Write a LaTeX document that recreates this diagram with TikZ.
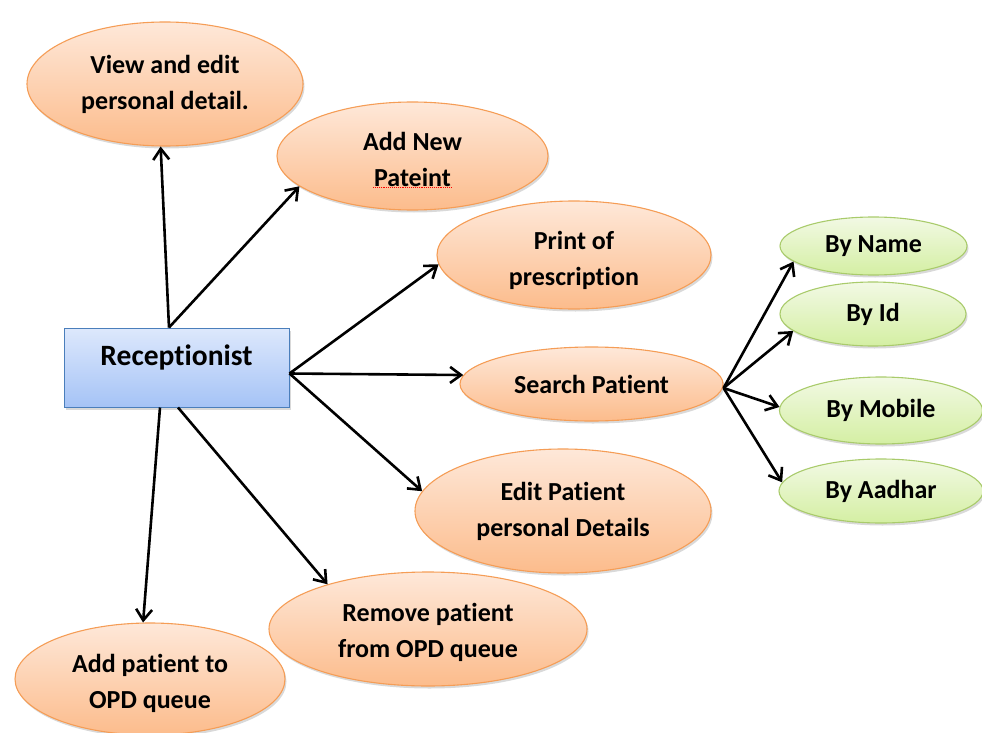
\documentclass[tikz,border=0pt]{standalone}
\usepackage{fontspec}
\setmainfont[Ligatures=NoCommon]{Carlito}
\usetikzlibrary{shapes.geometric,arrows.meta,shadows}
\definecolor{orTop}{HTML}{FEE8D9}
\definecolor{orBot}{HTML}{FCBC8C}
\definecolor{orLine}{HTML}{F59D56}
\definecolor{grTop}{HTML}{F2F9E4}
\definecolor{grBot}{HTML}{D4EFA3}
\definecolor{grLine}{HTML}{A9CB6B}
\definecolor{blTop}{HTML}{DDE8FC}
\definecolor{blBot}{HTML}{A5C3F6}
\definecolor{blLine}{HTML}{4A7EBB}
\newcommand{\mylift}[1]{\rule{0pt}{#1}}
\tikzset{
  txt/.style={font=\bfseries\fontsize{26}{36}\selectfont, align=center},
  usecase/.style={ellipse, draw=orLine, line width=1.1pt, top color=orTop, bottom color=orBot,
     inner sep=0pt, txt, drop shadow={shadow xshift=1.5pt, shadow yshift=-2.5pt, opacity=0.15, fill=black}},
  subcase/.style={ellipse, draw=grLine, line width=1.1pt, top color=grTop, bottom color=grBot,
     inner sep=0pt, txt, drop shadow={shadow xshift=1.5pt, shadow yshift=-2.5pt, opacity=0.15, fill=black}},
  actor/.style={rectangle, draw=blLine, line width=1pt, top color=blTop, bottom color=blBot,
     inner sep=0pt, font=\bfseries\fontsize{29.5}{34}\selectfont,
     drop shadow={shadow xshift=1.5pt, shadow yshift=-2.5pt, opacity=0.15, fill=black}},
  conn/.style={-{Straight Barb[length=11pt,width=16pt]}, line width=2.6pt, black},
}
\begin{document}
\begin{tikzpicture}[x=1pt,y=-1pt]
\useasboundingbox (0,0) rectangle (982,733);

\node[actor, minimum width=225pt, minimum height=79pt, text height=19pt, text depth=24pt]
  (rec) at (176.5,367.5) {Receptionist};

\node[usecase, minimum width=276pt, minimum height=124pt] (view) at (165,84) {View and edit\\personal detail.};
\node[usecase, minimum width=271pt, minimum height=108pt] (addnew) at (412.5,156) {\mylift{25pt}Add New\\Pateint};
\node[usecase, minimum width=274pt, minimum height=108pt] (print) at (574,255) {\mylift{29pt}Print of\\prescription};
\node[usecase, minimum width=263pt, minimum height=74pt] (search) at (591.5,384) {Search Patient};
\node[usecase, minimum width=296pt, minimum height=124pt] (edit) at (563,511) {Edit Patient\\personal Details};
\node[usecase, minimum width=318pt, minimum height=114pt] (remove) at (428,629) {\mylift{25pt}Remove patient\\from OPD queue};
\node[usecase, minimum width=270pt, minimum height=112pt] (addopd) at (150,679) {\mylift{27pt}Add patient to\\OPD queue};

\node[subcase, minimum width=187pt, minimum height=58pt] (byname) at (873.5,246) {By Name};
\node[subcase, minimum width=186pt, minimum height=64pt] (byid) at (873,314) {By Id};
\node[subcase, minimum width=203pt, minimum height=67pt] (bymobile) at (881,410.5) {By Mobile};
\node[subcase, minimum width=204pt, minimum height=64pt] (byaadhar) at (881,491) {By Aadhar};

\draw[red, densely dotted, line width=0.9pt] ([xshift=-39.5pt,yshift=-31pt]addnew.center) -- ([xshift=39.5pt,yshift=-31pt]addnew.center);

\draw[conn] ([xshift=-7.5pt]rec.north) -- (view.266);
\draw[conn] ([xshift=-7.5pt]rec.north) -- (addnew.195);
\draw[conn] ([yshift=-6pt]rec.east) -- (print.184);
\draw[conn] ([yshift=-6pt]rec.east) -- (search.176);
\draw[conn] ([yshift=-6pt]rec.east) -- (edit.172);
\draw[conn] ([xshift=-16.5pt]rec.south) -- (addopd.97);
\draw[conn] ([xshift=1.5pt]rec.south) -- (remove.156);

\draw[conn] ([yshift=-4pt]search.east) -- (byname.191);
\draw[conn] ([yshift=-4pt]search.east) -- (byid.192);
\draw[conn] ([yshift=-4pt]search.east) -- (bymobile.178);
\draw[conn] ([yshift=-4pt]search.east) -- (byaadhar.175);
\end{tikzpicture}
\end{document}
